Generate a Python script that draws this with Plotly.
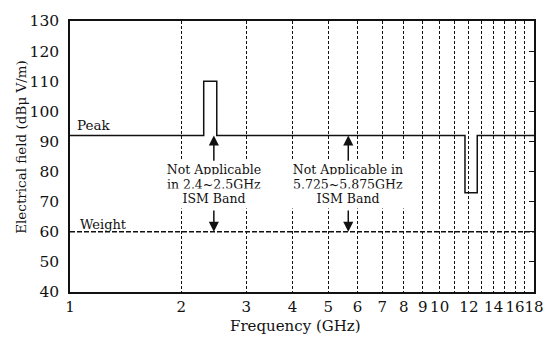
import math
import plotly.graph_objects as go

# Field-strength limit profile (GHz vs dBuV/m)
peak_freq = [1, 2.30, 2.30, 2.495, 2.495, 11.71, 11.71, 12.64, 12.64, 18]
peak_level = [92, 92, 110, 110, 92, 92, 73, 73, 92, 92]

weight_freq = [1, 18]
weight_level = [60, 60]

# Axis ticks
x_grid_ghz = list(range(1, 19))
x_labelled = [1, 2, 3, 4, 5, 6, 7, 8, 9, 10, 12, 14, 16, 18]
y_ticks = list(range(40, 131, 10))

# Exempt ISM bands: arrow frequency, label lines
ism_bands = [
    (2.45, ["Not Applicable", "in 2.4~2.5GHz", "ISM Band"]),
    (5.66, ["Not Applicable in", "5.725~5.875GHz", "ISM Band"]),
]
label_rows = [80.6, 75.6, 70.9]
arrow_up_from, arrow_down_from = 83.1, 67.6

FONT = "DejaVu Serif"
INK = "#111111"
X_MAX = math.log10(18) + 1e-6

fig = go.Figure()
fig.add_trace(go.Scatter(x=peak_freq, y=peak_level, mode="lines",
                         line=dict(color=INK, width=1.5), hoverinfo="skip",
                         showlegend=False))
fig.add_trace(go.Scatter(x=weight_freq, y=weight_level, mode="lines",
                         line=dict(color=INK, width=1.5, dash="5px,2px"),
                         hoverinfo="skip", showlegend=False))
# carrier for the right-hand tick axis
fig.add_trace(go.Scatter(x=[1, 18], y=[40, 130], yaxis="y2", mode="lines",
                         line=dict(width=0), hoverinfo="skip", showlegend=False))

ann = []
for f, lines in ism_bands:
    lx = math.log10(f)
    for txt, yv in zip(lines, label_rows):
        ann.append(dict(x=lx, y=yv, xref="x", yref="y", text=txt, showarrow=False,
                        font=dict(family=FONT, size=12.5, color=INK),
                        bgcolor="white", width=118, height=17,
                        xanchor="center", yanchor="middle"))
    # arrows toward the peak limit and the weighted limit
    ann.append(dict(x=lx, y=peak_level[0], ax=lx, ay=arrow_up_from,
                    xref="x", yref="y", axref="x", ayref="y", text="",
                    showarrow=True, arrowhead=2, arrowsize=1.35, arrowwidth=1.5,
                    arrowcolor=INK))
    ann.append(dict(x=lx, y=weight_level[0], ax=lx, ay=arrow_down_from,
                    xref="x", yref="y", axref="x", ayref="y", text="",
                    showarrow=True, arrowhead=2, arrowsize=1.35, arrowwidth=1.5,
                    arrowcolor=INK))

ann.append(dict(x=math.log10(1.03), y=95.4, xref="x", yref="y", text="Peak",
                showarrow=False, xanchor="left", yanchor="middle",
                font=dict(family=FONT, size=13.5, color=INK)))
ann.append(dict(x=math.log10(1.05), y=62.5, xref="x", yref="y", text="Weight",
                showarrow=False, xanchor="left", yanchor="middle",
                font=dict(family=FONT, size=13, color=INK)))

# axis titles
ann.append(dict(x=0.487, y=-0.126, xref="paper", yref="paper",
                text="Frequency (GHz)", showarrow=False,
                xanchor="center", yanchor="middle",
                font=dict(family=FONT, size=15, color=INK)))
ann.append(dict(x=-0.106, y=0.535, xref="paper", yref="paper",
                text="Electrical field (dBμ V/m)", showarrow=False, textangle=-90,
                xanchor="center", yanchor="middle",
                font=dict(family=FONT, size=13.5, color=INK)))

fig.update_layout(
    width=556, height=342,
    margin=dict(l=70, r=14, t=15, b=50),
    paper_bgcolor="white", plot_bgcolor="white",
    font=dict(family=FONT, color=INK),
    annotations=ann,
    xaxis=dict(type="log", range=[0, X_MAX],
               tickvals=x_grid_ghz,
               ticktext=[str(v) if v in x_labelled else "" for v in x_grid_ghz],
               tickangle=0,
               tickfont=dict(family=FONT, size=15, color=INK),
               showgrid=True, gridcolor=INK, gridwidth=1.2, griddash="3px,2px",
               showline=True, mirror=True, linecolor=INK, linewidth=1.5,
               ticks="", zeroline=False, ticklabelstandoff=0),
    yaxis=dict(range=[40, 130], tickvals=y_ticks,
               tickfont=dict(family=FONT, size=15.5, color=INK),
               showgrid=False, showline=True, mirror=True, linecolor=INK,
               linewidth=1.5, ticks="", zeroline=False, ticklabelstandoff=6),
    yaxis2=dict(overlaying="y", side="right", range=[40, 130],
                tickvals=y_ticks[1:-1], ticks="inside", ticklen=5, tickwidth=1,
                tickcolor=INK, showticklabels=False, showgrid=False,
                showline=False, zeroline=False),
)

fig.write_html("out.html")
